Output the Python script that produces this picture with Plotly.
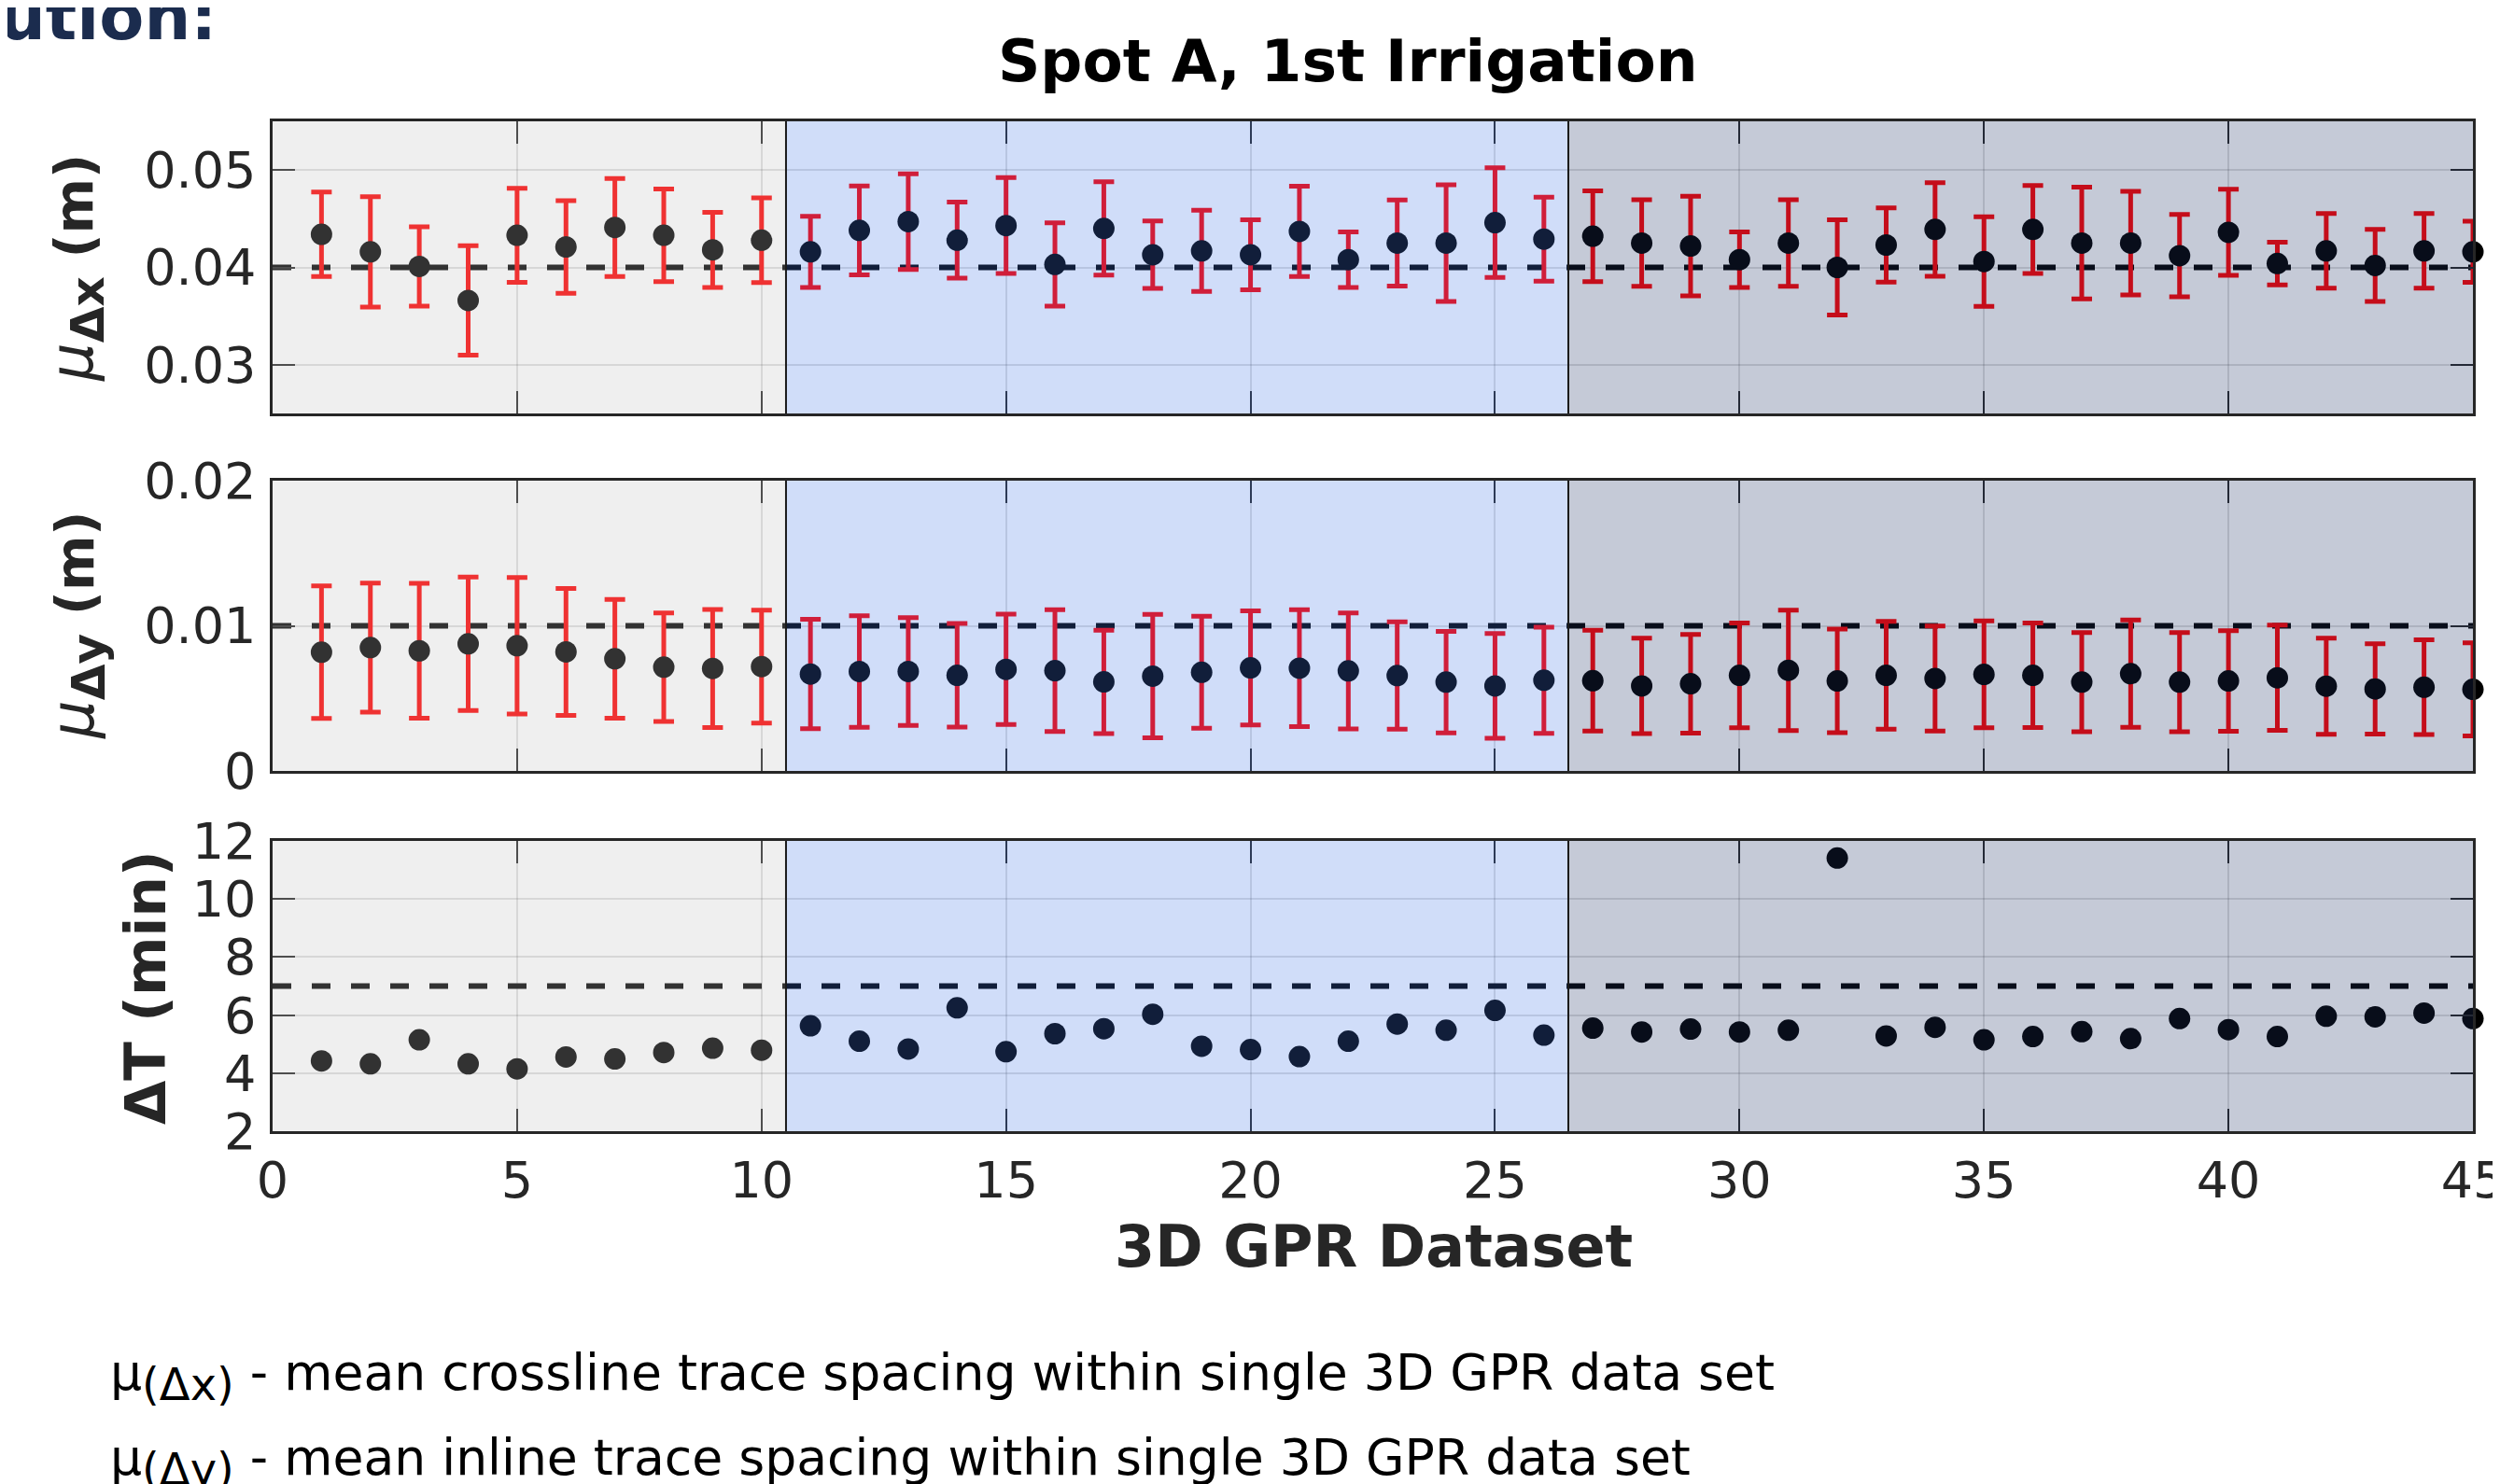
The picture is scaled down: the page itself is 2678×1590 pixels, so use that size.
import plotly.graph_objects as go

# ---------------- data ----------------
datasets = list(range(1, 46))

dx_mean = [0.0434, 0.0416, 0.0401, 0.0366, 0.0433, 0.0421, 0.0441, 0.0433, 0.0418, 0.0428,
           0.0416, 0.0438, 0.0447, 0.0428, 0.0443, 0.0403, 0.0440, 0.0413, 0.0417, 0.0413,
           0.0437, 0.0408, 0.0425, 0.0425, 0.0446, 0.0429, 0.0432, 0.0425, 0.0422, 0.0408,
           0.0425, 0.0400, 0.0423, 0.0439, 0.0406, 0.0439, 0.0425, 0.0425, 0.0412, 0.0436,
           0.0404, 0.0417, 0.0402, 0.0417, 0.0416]
dx_std = [0.00434, 0.00567, 0.00407, 0.00562, 0.00483, 0.00475, 0.00504, 0.00475, 0.00386, 0.00435,
          0.00365, 0.00456, 0.00491, 0.00391, 0.00493, 0.00428, 0.00480, 0.00346, 0.00418, 0.00360,
          0.00464, 0.00285, 0.00442, 0.00599, 0.00562, 0.00432, 0.00466, 0.00445, 0.00512, 0.00285,
          0.00445, 0.00488, 0.00382, 0.00480, 0.00460, 0.00452, 0.00574, 0.00532, 0.00423, 0.00442,
          0.00219, 0.00383, 0.00370, 0.00383, 0.00314]

dy_mean = [0.00818, 0.00850, 0.00828, 0.00876, 0.00863, 0.00820, 0.00773, 0.00715, 0.00706, 0.00719,
           0.00668, 0.00685, 0.00685, 0.00659, 0.00700, 0.00691, 0.00614, 0.00653, 0.00680, 0.00710,
           0.00708, 0.00689, 0.00657, 0.00612, 0.00586, 0.00625, 0.00622, 0.00586, 0.00601, 0.00659,
           0.00693, 0.00620, 0.00659, 0.00637, 0.00665, 0.00659, 0.00612, 0.00670, 0.00612, 0.00620,
           0.00642, 0.00584, 0.00565, 0.00577, 0.00562]
dy_std = [0.00457, 0.00445, 0.00464, 0.00460, 0.00470, 0.00437, 0.00409, 0.00374, 0.00407, 0.00389,
          0.00377, 0.00384, 0.00372, 0.00357, 0.00380, 0.00420, 0.00356, 0.00425, 0.00386, 0.00393,
          0.00403, 0.00400, 0.00370, 0.00350, 0.00361, 0.00366, 0.00347, 0.00328, 0.00340, 0.00361,
          0.00415, 0.00357, 0.00371, 0.00362, 0.00368, 0.00360, 0.00342, 0.00370, 0.00342, 0.00346,
          0.00363, 0.00331, 0.00311, 0.00326, 0.00321]

dT = [4.42, 4.32, 5.15, 4.32, 4.15, 4.56, 4.49, 4.71, 4.86, 4.79,
      5.63, 5.10, 4.83, 6.25, 4.74, 5.36, 5.53, 6.03, 4.93, 4.81,
      4.57, 5.10, 5.69, 5.48, 6.16, 5.31, 5.55, 5.42, 5.52, 5.42,
      5.48, 11.41, 5.28, 5.58, 5.15, 5.26, 5.43, 5.19, 5.88, 5.50,
      5.26, 5.96, 5.94, 6.07, 5.88]

ref_dx = 0.04
ref_dy = 0.01
ref_dT = 7

region_edges = [0, 10.5, 26.5, 45]
region_fill = ["rgba(194,194,194,0.26)", "rgba(68,120,232,0.25)", "rgba(31,50,100,0.26)"]

x_ticks = [0, 5, 10, 15, 20, 25, 30, 35, 40, 45]
y1_ticks = [0.03, 0.04, 0.05]
y1_text = ["0.03", "0.04", "0.05"]
y2_ticks = [0, 0.01, 0.02]
y2_text = ["0", "0.01", "0.02"]
y3_ticks = [2, 4, 6, 8, 10, 12]

# ---------------- figure ----------------
OFF = 8                      # page body margin offset
W, H = 2678 - OFF, 1590 - OFF
FONT = "DejaVu Sans"
AX = "#262626"

def px(x):
    return (x - OFF) / W

def py(y):
    return 1 - (y - OFF) / H

fig = go.Figure()

def ref_line(val, xa, ya):
    fig.add_trace(go.Scatter(x=[0, 45], y=[val, val], mode="lines", xaxis=xa, yaxis=ya,
                             line=dict(color="black", width=6, dash="20px,22px"),
                             hoverinfo="skip", showlegend=False))

ref_line(ref_dx, "x", "y")
fig.add_trace(go.Scatter(x=datasets, y=dx_mean, mode="markers", xaxis="x", yaxis="y",
                         marker=dict(color="black", size=23),
                         error_y=dict(type="data", array=dx_std, color="red", thickness=5, width=11),
                         cliponaxis=False, showlegend=False))

ref_line(ref_dy, "x2", "y2")
fig.add_trace(go.Scatter(x=datasets, y=dy_mean, mode="markers", xaxis="x2", yaxis="y2",
                         marker=dict(color="black", size=23),
                         error_y=dict(type="data", array=dy_std, color="red", thickness=5, width=11),
                         cliponaxis=False, showlegend=False))

ref_line(ref_dT, "x3", "y3")
fig.add_trace(go.Scatter(x=datasets, y=dT, mode="markers", xaxis="x3", yaxis="y3",
                         marker=dict(color="black", size=23),
                         cliponaxis=False, showlegend=False))

xdom = [px(292), px(2649)]
doms = [[py(443), py(130)], [py(826), py(515)], [py(1212), py(901)]]

def xaxis(anchor, labels):
    return dict(domain=xdom, range=[0, 45], anchor=anchor, tickvals=x_ticks, automargin=False,
                showticklabels=labels, ticks="inside", ticklen=24, tickwidth=2, tickcolor=AX,
                showline=True, linecolor=AX, linewidth=2.5, mirror="ticks",
                showgrid=True, gridcolor="rgba(38,38,38,0.15)", gridwidth=2, zeroline=False,
                tickfont=dict(family=FONT, size=54, color=AX), ticklabelstandoff=3,
                ticklabeloverflow="allow")

def yaxis(anchor, dom, rng, tv, tt=None):
    d = dict(domain=dom, range=rng, anchor=anchor, tickvals=tv, automargin=False,
             ticks="inside", ticklen=24, tickwidth=2, tickcolor=AX,
             showline=True, linecolor=AX, linewidth=2.5, mirror="ticks",
             showgrid=True, gridcolor="rgba(38,38,38,0.15)", gridwidth=2, zeroline=False,
             tickfont=dict(family=FONT, size=54, color=AX), ticklabelstandoff=4,
             ticklabeloverflow="allow")
    if tt is not None:
        d["ticktext"] = tt
    return d

shapes = []
for xa, ya in [("x", "y"), ("x2", "y2"), ("x3", "y3")]:
    for i in range(3):
        shapes.append(dict(type="rect", xref=xa, yref=ya + " domain",
                           x0=region_edges[i], x1=region_edges[i + 1], y0=0, y1=1,
                           fillcolor=region_fill[i], line=dict(width=0), layer="above"))
    for e in region_edges[1:3]:
        shapes.append(dict(type="line", xref=xa, yref=ya + " domain", x0=e, x1=e, y0=0, y1=1,
                           line=dict(color="#1a1a1a", width=2), layer="above"))

def ytitle(var):
    return ('<span style="font-size:64px"><i>μ</i></span>'
            '<sub><span style="font-size:50px"><b>Δ' + var + '</b></span></sub>'
            '<b> (m)</b>')

annotations = [
    dict(text="<b>Spot A, 1st Irrigation</b>", x=px(1444), y=py(66), xref="paper", yref="paper",
         showarrow=False, xanchor="center", yanchor="middle",
         font=dict(family=FONT, size=63, color="black")),
    dict(text="<b>3D GPR Dataset</b>", x=px(1471), y=py(1335), xref="paper", yref="paper",
         showarrow=False, xanchor="center", yanchor="middle",
         font=dict(family=FONT, size=62, color=AX)),
    dict(text=ytitle("x"), x=px(82), y=py(287), xref="paper", yref="paper",
         showarrow=False, xanchor="center", yanchor="middle", textangle=-90,
         font=dict(family=FONT, size=57, color=AX)),
    dict(text=ytitle("y"), x=px(82), y=py(670), xref="paper", yref="paper",
         showarrow=False, xanchor="center", yanchor="middle", textangle=-90,
         font=dict(family=FONT, size=57, color=AX)),
    dict(text="<b>ΔT (min)</b>", x=px(155), y=py(1058), xref="paper", yref="paper",
         showarrow=False, xanchor="center", yanchor="middle", textangle=-90,
         font=dict(family=FONT, size=61, color=AX)),
    dict(text="<b>ution:</b>", x=px(-3), y=py(18), xref="paper", yref="paper",
         showarrow=False, xanchor="left", yanchor="middle",
         font=dict(family=FONT, size=70, color="#1b2c4e")),
    dict(text='μ<sub><span style="font-size:48px">(Δx)</span></sub> - mean crossline trace spacing within single 3D GPR data set',
         x=px(116), y=py(1475), xref="paper", yref="paper",
         showarrow=False, xanchor="left", yanchor="middle",
         font=dict(family=FONT, size=53.6, color="black")),
    dict(text='μ<sub><span style="font-size:48px">(Δy)</span></sub> - mean inline trace spacing within single 3D GPR data set',
         x=px(116), y=py(1566), xref="paper", yref="paper",
         showarrow=False, xanchor="left", yanchor="middle",
         font=dict(family=FONT, size=53.6, color="black")),
]

fig.update_layout(
    width=W, height=H, margin=dict(l=0, r=0, t=0, b=0, autoexpand=False),
    paper_bgcolor="white", plot_bgcolor="white", showlegend=False,
    xaxis=xaxis("y", False), xaxis2=xaxis("y2", False), xaxis3=xaxis("y3", True),
    yaxis=yaxis("x", doms[0], [0.025, 0.055], y1_ticks, y1_text),
    yaxis2=yaxis("x2", doms[1], [0, 0.02], y2_ticks, y2_text),
    yaxis3=yaxis("x3", doms[2], [2, 12], y3_ticks),
    shapes=shapes, annotations=annotations,
    font=dict(family=FONT, color=AX),
)

fig.write_html("out.html", config={"displayModeBar": False})
